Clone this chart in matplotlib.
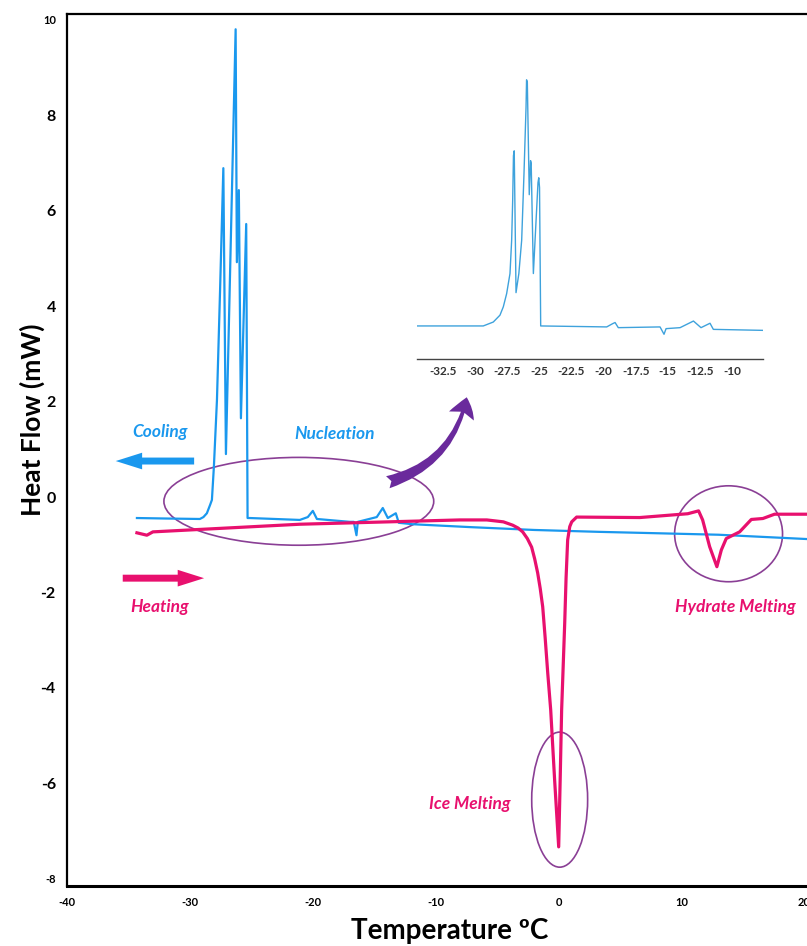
import matplotlib
matplotlib.use("Agg")
import matplotlib.pyplot as plt
from matplotlib.patches import Ellipse, FancyArrowPatch

# cooling run (blue), temperature in C, heat flow in mW
cool_t = [-34.31, -32.0, -29.19, -28.9, -28.62, -28.35, -28.21, -28.05, -27.80, -27.55,
          -27.28, -27.07, -26.28, -26.18, -26.02, -25.85, -25.42, -25.31, -25.12, -21.06,
          -20.41, -20.0, -19.67, -16.99, -16.67, -16.45, -16.34, -14.80, -14.31, -13.90,
          -13.25, -13.01, -11.87, -7.24, -2.0, 3.33, 6.59, 13.0, 20.16]
cool_hf = [-0.44, -0.45, -0.46, -0.42, -0.34, -0.16, -0.06, 0.63, 2.03, 4.3,
           6.89, 0.90, 9.80, 4.92, 6.43, 1.65, 5.72, -0.44, -0.44, -0.48,
           -0.42, -0.29, -0.46, -0.52, -0.52, -0.80, -0.52, -0.42, -0.23, -0.44,
           -0.34, -0.54, -0.57, -0.63, -0.69, -0.73, -0.75, -0.79, -0.88]

# heating run (pink)
heat_t = [-34.31, -33.50, -33.01, -21.06, -8.05, -5.85, -4.5, -3.74, -3.3, -2.93,
          -2.55, -2.20, -1.95, -1.71, -1.50, -1.30, -1.10, -0.89, -0.65, -0.33,
          0.0, 0.12, 0.24, 0.49, 0.60, 0.73, 0.90, 1.06, 1.46, 6.59,
          10.5, 11.38, 11.71, 12.28, 12.87, 13.23, 13.63, 14.72, 15.67, 16.61,
          17.56, 20.16]
heat_hf = [-0.75, -0.80, -0.73, -0.57, -0.48, -0.48, -0.52, -0.59, -0.65, -0.73,
           -0.87, -1.05, -1.30, -1.59, -1.92, -2.30, -2.95, -3.69, -4.46, -5.93,
           -7.33, -5.93, -4.46, -2.64, -1.70, -0.90, -0.62, -0.52, -0.42, -0.43,
           -0.35, -0.29, -0.48, -1.04, -1.46, -1.11, -0.87, -0.73, -0.47, -0.45,
           -0.36, -0.36]

# zoomed view of the nucleation region
inset_t = [-34.55, -29.36, -28.58, -28.06, -27.80, -27.54, -27.28, -27.15, -27.07, -27.01,
           -26.95, -26.81, -26.59, -26.37, -26.19, -26.03, -25.99, -25.93, -25.78, -25.68,
           -25.63, -25.46, -25.10, -25.04, -24.98, -24.89, -19.75, -19.30, -19.10, -18.85,
           -15.60, -15.29, -15.13, -14.04, -13.0, -12.41, -11.71, -11.45, -7.6]
inset_hf = [-0.45, -0.45, -0.29, -0.01, 0.33, 0.87, 1.69, 3.05, 4.68, 6.50,
            6.70, 0.91, 1.69, 3.05, 5.77, 8.49, 9.60, 9.50, 4.91, 6.30,
            6.20, 1.69, 5.40, 5.60, 5.20, -0.45, -0.49, -0.36, -0.31, -0.52,
            -0.49, -0.79, -0.56, -0.52, -0.25, -0.52, -0.34, -0.59, -0.63]

x_ticks = [-40, -30, -20, -10, 0, 10, 20]
y_ticks = [-8, -6, -4, -2, 0, 2, 4, 6, 8, 10]
inset_ticks = [-32.5, -30, -27.5, -25, -22.5, -20, -17.5, -15, -12.5, -10]

blue = '#1a98ee'
pink = '#e8106e'
purple = '#8a3f95'
font = ['Lato', 'DejaVu Sans']

fig = plt.figure(figsize=(8.07, 9.46), dpi=100)
ax = fig.add_axes([0.0830, 0.0634, 0.9170, 0.9218])
ax.plot(cool_t, cool_hf, color=blue, lw=1.6)
ax.plot(heat_t, heat_hf, color=pink, lw=2.3)
ax.set_xlim(-40, 20.2)
ax.set_ylim(-8.15, 10.12)
ax.set_xticks(x_ticks)
ax.set_yticks(y_ticks)
ax.set_xticklabels([str(v) for v in x_ticks], fontsize=8, fontweight='bold', family=font)
ax.set_yticklabels([str(v) for v in y_ticks], fontsize=11.5, fontweight='bold', family=font)
for lab in ax.get_yticklabels():
    if lab.get_text() in ('10', '-8'):
        lab.set_fontsize(8)
ax.tick_params(length=0, pad=8)
for s in ['left', 'top']:
    ax.spines[s].set_linewidth(1.6)
ax.spines['bottom'].set_linewidth(2.2)
ax.spines['right'].set_visible(False)

# ellipses marking events
ax.add_patch(Ellipse((-21.14, -0.09), 21.95, 1.84, fill=False, ec=purple, lw=1.2))
ax.add_patch(Ellipse((0.08, -6.34), 4.55, 2.83, fill=False, ec=purple, lw=1.2))
ax.add_patch(Ellipse((13.82, -0.77), 8.78, 2.01, fill=False, ec=purple, lw=1.2))

# direction arrows
ax.add_patch(FancyArrowPatch((-29.43, 0.754), (-36.26, 0.754), mutation_scale=1, color=blue,
                             arrowstyle='simple,head_length=19,head_width=12,tail_width=5', lw=0))
ax.add_patch(FancyArrowPatch((-35.69, -1.70), (-28.62, -1.70), mutation_scale=1, color=pink,
                             arrowstyle='simple,head_length=19,head_width=12,tail_width=5', lw=0))
ax.add_patch(FancyArrowPatch((-13.9, 0.31), (-7.48, 2.09), mutation_scale=1, color='#6a2a9c',
                             connectionstyle='arc3,rad=0.3', shrinkA=0, shrinkB=0, lw=0,
                             arrowstyle='fancy,head_length=14,head_width=19,tail_width=9'))

tkw = dict(fontsize=12.5, fontweight='bold', style='italic', family=font, ha='center', va='center')
ax.text(-32.44, 1.36, 'Cooling', color=blue, **tkw)
ax.text(-18.21, 1.32, 'Nucleation', color=blue, **tkw)
ax.text(-32.44, -2.30, 'Heating', color=pink, **tkw)
ax.text(-7.24, -6.43, 'Ice Melting', color=pink, **tkw)
ax.text(14.39, -2.30, 'Hydrate Melting', color=pink, **tkw)

fig.text(32 / 807, 1 - 420 / 946, 'Heat Flow (mW)', rotation=90, ha='center', va='center',
         fontsize=19, fontweight='bold', family=font)
fig.text(450 / 807, 1 - 931 / 946, 'Temperature ºC', ha='center', va='center',
         fontsize=20, fontweight='bold', family=font)

# inset
ins = fig.add_axes([0.5167, 0.6205, 0.4287, 0.3161])
ins.plot(inset_t, inset_hf, color='#3ea2dc', lw=1.0)
ins.set_xlim(-34.52, -7.59)
ins.set_ylim(-1.8, 10.41)
ins.set_xticks(inset_ticks)
ins.set_xticklabels([f'{v:g}' for v in inset_ticks], fontsize=8.5, fontweight='bold', family=font,
                    color='#333333')
ins.set_yticks([])
ins.tick_params(length=0, pad=5)
for s in ['left', 'top', 'right']:
    ins.spines[s].set_visible(False)
ins.spines['bottom'].set_color('#444444')
ins.spines['bottom'].set_linewidth(1.0)
ins.patch.set_alpha(0)

fig.savefig('out.png', dpi=100)
